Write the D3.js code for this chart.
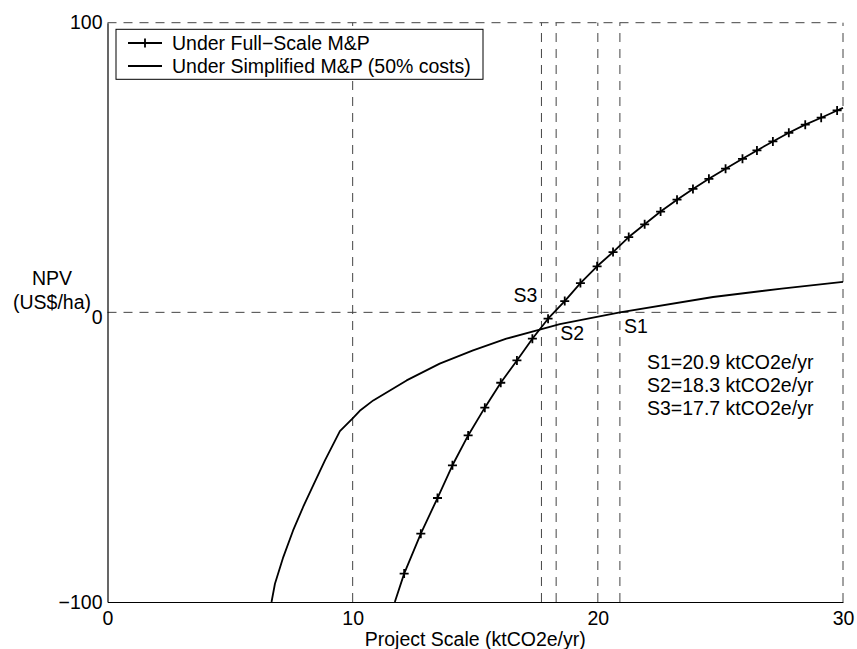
<!DOCTYPE html>
<html>
<head>
<meta charset="utf-8">
<script src="https://cdn.jsdelivr.net/npm/d3@7"></script>
<style>
  html, body { margin: 0; padding: 0; background: #fff; }
  svg { display: block; font-family: "Liberation Sans", Arial, sans-serif; }
</style>
</head>
<body>
<svg id="chart" width="857" height="649"></svg>
<script>
// ---- data ----
const xTicks = [0, 10, 20, 30];
const yTicks = [-100, 0, 100];
const xGrid = [10, 17.7, 18.3, 20, 20.9, 30];
const yGrid = [0, 100];

// Under Full-Scale M&P (points where the curve enters/leaves the frame have no marker)
const fullX = [11.72, 12.1, 12.78, 13.46, 14.07, 14.71, 15.39, 16.04, 16.7, 17.33, 17.97, 18.65, 19.29, 19.97,
               20.62, 21.26, 21.91, 22.56, 23.23, 23.88, 24.53, 25.21, 25.9, 26.49, 27.14, 27.79, 28.46, 29.11, 29.76, 30];
const fullY = [-100, -90.2, -76.4, -64.1, -52.8, -42.5, -32.9, -24.3, -16.6, -9.1, -2.2, 3.9, 10.1, 15.9,
               20.8, 26.0, 30.4, 34.8, 38.9, 42.6, 46.1, 49.6, 53.0, 55.9, 59.0, 62.0, 64.8, 67.2, 69.7, 70.6];

// Under Simplified M&P (50% costs)
const simpX = [6.69, 6.83, 7.17, 7.57, 7.98, 8.39, 8.87, 9.48, 10.02, 10.29, 10.84, 12.2, 13.55, 14.91, 16.27, 17.63, 18.45, 20.9, 24.7, 27.5, 30];
const simpY = [-100, -93.7, -84.5, -75.3, -67.2, -59.7, -51.1, -41.0, -36.4, -34.0, -30.4, -23.5, -17.7, -13.1, -9.1, -6.0, -4.1, 0, 5.3, 8.2, 10.5];

const legendLabels = ["Under Full\u2212Scale M&P", "Under Simplified M&P (50% costs)"];
const pointLabels = [
  { text: "S3", x: 17.7, y: 0 },
  { text: "S2", x: 18.3, y: 0 },
  { text: "S1", x: 20.9, y: 0 }
];
const noteLines = ["S1=20.9 ktCO2e/yr", "S2=18.3 ktCO2e/yr", "S3=17.7 ktCO2e/yr"];
const xLabel = "Project Scale (ktCO2e/yr)";
const yLabel = ["NPV", "(US$/ha)"];

// ---- layout ----
const svg = d3.select("#chart");
const x = d3.scaleLinear().domain([0, 30]).range([107.5, 843]);
const y = d3.scaleLinear().domain([-100, 100]).range([602, 22.7]);
const FS = 19.5;
const dash = "9,7";
const gridColor = "#444";

svg.append("rect").attr("width", 857).attr("height", 649).attr("fill", "#fff");

// grid lines (dashed)
const g = svg.append("g");
g.selectAll("line.vg").data(xGrid).join("line")
  .attr("x1", d => x(d)).attr("x2", d => x(d))
  .attr("y1", y(-100)).attr("y2", y(100))
  .attr("stroke", gridColor).attr("stroke-width", 1).attr("stroke-dasharray", dash);
g.selectAll("line.hg").data(yGrid).join("line")
  .attr("x1", x(0)).attr("x2", x(30))
  .attr("y1", d => y(d)).attr("y2", d => y(d))
  .attr("stroke", gridColor).attr("stroke-width", 1).attr("stroke-dasharray", dash);

// axes (solid left & bottom)
const xAxis = d3.axisBottom(x).tickValues(xTicks).tickSize(0).tickPadding(9).tickFormat(d3.format("d"));
const yAxis = d3.axisLeft(y).tickValues(yTicks).tickSize(0).tickPadding(5)
  .tickFormat(d => d < 0 ? "\u2212" + Math.abs(d) : d);
const gx = svg.append("g").attr("transform", `translate(0,${y(-100)})`).call(xAxis);
const gy = svg.append("g").attr("transform", `translate(${x(0)},0)`).call(yAxis);
[gx, gy].forEach(a => {
  a.select(".domain").attr("stroke", "#000").attr("stroke-width", 1.2);
  a.selectAll("text").attr("font-size", FS).attr("fill", "#000")
    .attr("font-family", "'Liberation Sans', Arial, sans-serif");
});
gy.selectAll(".tick text").attr("dy", "0.32em");
gy.selectAll(".tick").filter(d => d === 0).select("text").attr("dy", "0.55em");

// curves
const line = d3.line().x(d => x(d[0])).y(d => y(d[1]));
const fullPts = fullX.map((v, i) => [v, fullY[i]]);
const simpPts = simpX.map((v, i) => [v, simpY[i]]);

svg.append("path").datum(simpPts).attr("d", line)
  .attr("fill", "none").attr("stroke", "#000").attr("stroke-width", 1.8).attr("stroke-linejoin", "round");
svg.append("path").datum(fullPts).attr("d", line)
  .attr("fill", "none").attr("stroke", "#000").attr("stroke-width", 1.8).attr("stroke-linejoin", "round");

const markerPts = fullPts.filter(d => d[0] < 30 && d[1] > -100);
const m = 4.5;
svg.append("g").selectAll("path").data(markerPts).join("path")
  .attr("d", d => `M${x(d[0]) - m},${y(d[1])}h${2 * m}M${x(d[0])},${y(d[1]) - m}v${2 * m}`)
  .attr("stroke", "#000").attr("stroke-width", 1.8).attr("fill", "none");

// point labels S1..S3
const offs = { S3: [-4, -10, "end"], S2: [4, 28, "start"], S1: [4, 21, "start"] };
svg.append("g").selectAll("text").data(pointLabels).join("text")
  .attr("x", d => x(d.x) + offs[d.text][0])
  .attr("y", d => y(d.y) + offs[d.text][1])
  .attr("text-anchor", d => offs[d.text][2])
  .attr("font-size", FS).text(d => d.text);

// note lines
svg.append("g").selectAll("text").data(noteLines).join("text")
  .attr("x", 647).attr("y", (d, i) => 368.5 + i * 23.3)
  .attr("font-size", FS).text(d => d);

// legend
const lg = svg.append("g");
lg.append("rect").attr("x", 116).attr("y", 29.3).attr("width", 367).attr("height", 50)
  .attr("fill", "#fff").attr("stroke", "#000").attr("stroke-width", 1);
legendLabels.forEach((t, i) => {
  const cy = 43 + i * 23;
  lg.append("line").attr("x1", 128).attr("x2", 162).attr("y1", cy).attr("y2", cy)
    .attr("stroke", "#000").attr("stroke-width", 1.8);
  if (i === 0) {
    lg.append("path").attr("d", `M145,${cy - m}v${2 * m}`).attr("stroke", "#000").attr("stroke-width", 1.8);
  }
  lg.append("text").attr("x", 172).attr("y", cy).attr("dy", "0.35em")
    .attr("font-size", FS).text(t);
});

// axis labels
svg.append("text").attr("x", x(15)).attr("y", 646).attr("text-anchor", "middle")
  .attr("font-size", FS).text(xLabel);
svg.append("text").attr("x", 52).attr("y", 285).attr("text-anchor", "middle")
  .attr("font-size", FS).text(yLabel[0]);
svg.append("text").attr("x", 52).attr("y", 309).attr("text-anchor", "middle")
  .attr("font-size", FS).text(yLabel[1]);
</script>
</body>
</html>
